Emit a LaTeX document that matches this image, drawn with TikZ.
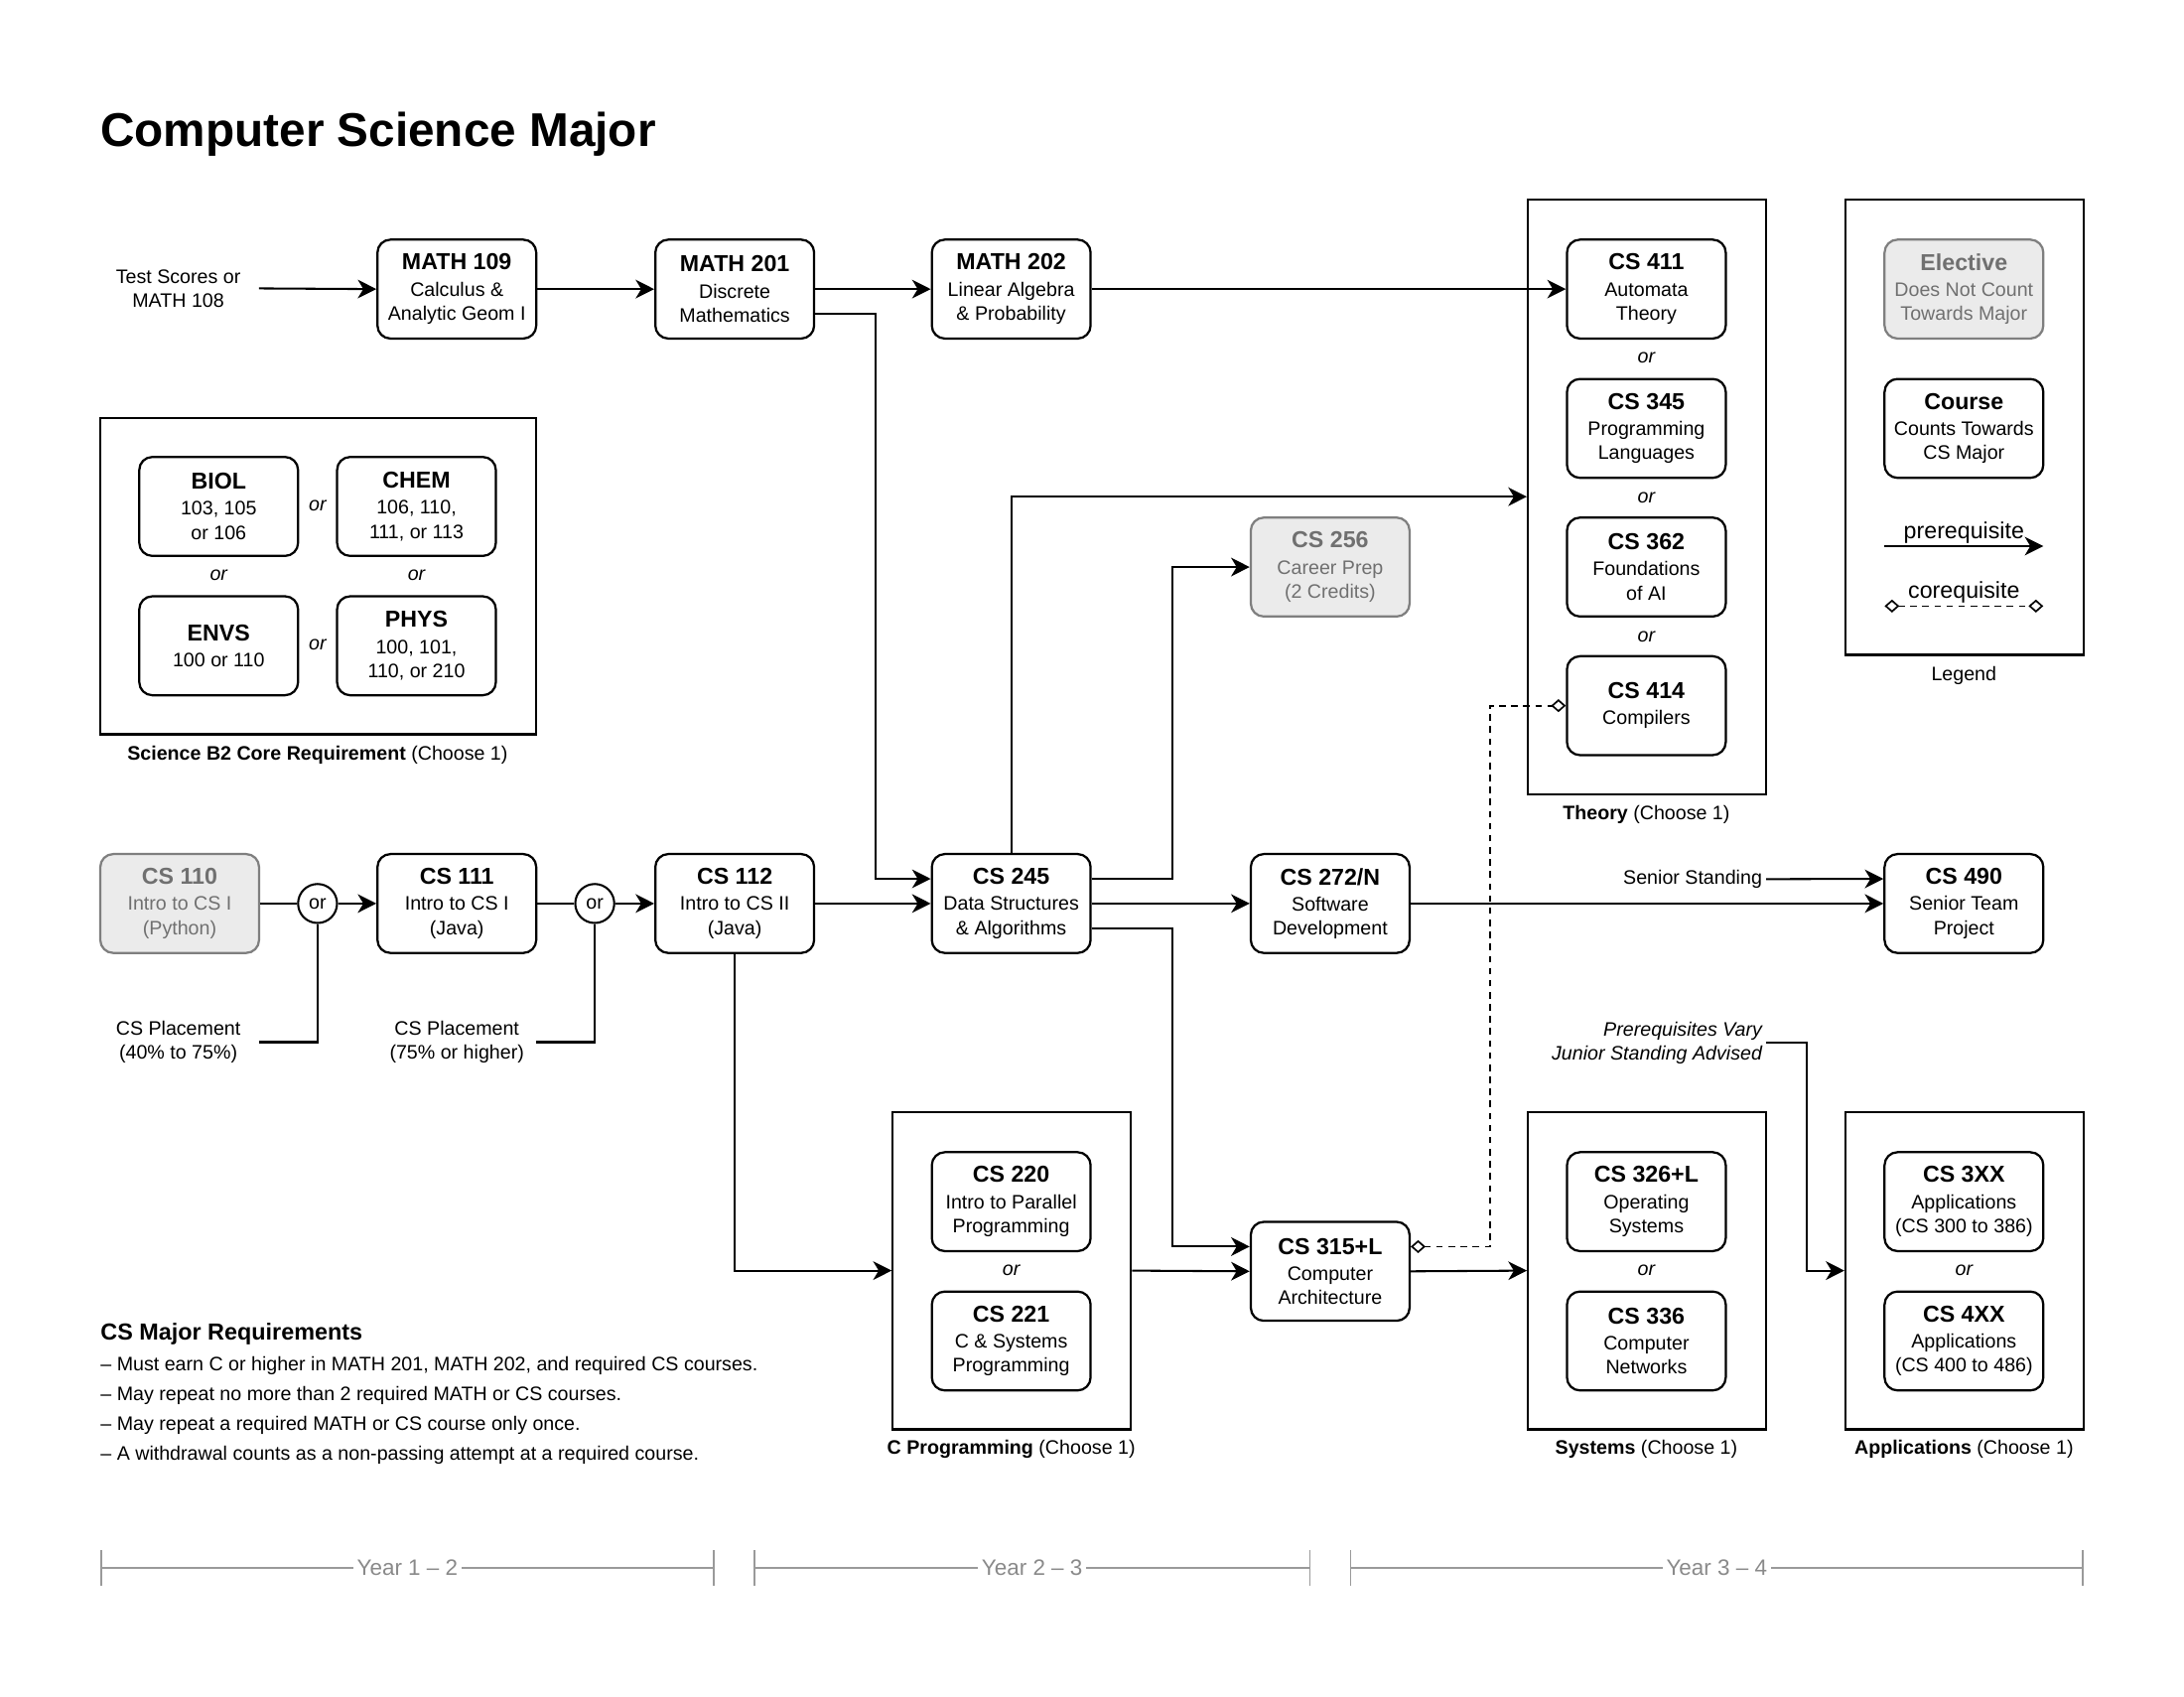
\documentclass[tikz,border=0pt]{standalone}
\usepackage{fontspec}
\setmainfont{Liberation Sans}
\usetikzlibrary{arrows.meta, fit, positioning}
\definecolor{elecfill}{HTML}{EBEBEB}
\definecolor{elecline}{HTML}{7F7F7F}
\definecolor{electext}{HTML}{707070}
\definecolor{yeargray}{HTML}{9A9A9A}
\definecolor{yeartext}{HTML}{8A8A8A}
\newcommand{\ctitle}{\bfseries\fontsize{12.4}{14}\selectfont}

\begin{document}
\begin{tikzpicture}[x=0.75pt, y=-0.75pt,
  every node/.style={font=\fontsize{10.5}{13}\selectfont},
  course/.style={draw, line width=1.2pt, rounded corners=7pt, minimum width=85.5pt, minimum height=53.25pt, align=center, inner sep=1pt},
  elective/.style={course, draw=elecline, fill=elecfill, text=electext},
  choicebox/.style={draw, line width=1.2pt, inner sep=0pt},
  orc/.style={draw, circle, line width=1.1pt, minimum size=21pt, inner sep=0pt},
  ortext/.style={font=\itshape\fontsize{10.5}{13}\selectfont},
  link/.style={line width=1.1pt},
  prereq/.style={line width=1.1pt, -{Stealth[length=10pt, width=10pt, inset=3pt]}},
  coreq/.style={line width=0.9pt, dash pattern=on 3.5pt off 3pt, {Diamond[open, length=8pt, width=7pt]}-{Diamond[open, length=8pt, width=7pt]}},
  yearbar/.style={draw=yeargray, line width=0.9pt, {Bar[width=19pt]}-{Bar[width=19pt]}},
  yearlabel/.style={fill=white, text=yeartext, inner sep=2pt, font=\fontsize{12}{14}\selectfont},
  reqline/.style={anchor=base west, inner sep=0pt}
]
\useasboundingbox (0,0) rectangle (1568,1218);
\node[anchor=base west, inner sep=0pt, font=\bfseries\fontsize{25.5}{30}\selectfont] (title) at (72,105) {Computer Science Major};

% Math row
\node[align=center] (tests) at (128,207) {Test Scores or\\MATH 108};
\coordinate (testsend) at (186,207);
\node[course] (m109) at (328,207.5) {{\ctitle MATH 109}\\[1pt]Calculus \&\\Analytic Geom I};
\node[course] (m201) at (527.5,207.5) {{\ctitle MATH 201}\\[1pt]Discrete\\Mathematics};
\node[course] (m202) at (726,207.5) {{\ctitle MATH 202}\\[1pt]Linear Algebra\\\& Probability};

% Science B2 core
\node[choicebox, fit={(72,300) (385,527)}] (science) {};
\node[course] (biol) at (157,363.5) {{\ctitle BIOL}\\[1pt]103, 105\\or 106};
\node[course] (chem) at (299,363.5) {{\ctitle CHEM}\\[1pt]106, 110,\\111, or 113};
\node[course] (envs) at (157,463.5) {{\ctitle ENVS}\\[1pt]100 or 110};
\node[course] (phys) at (299,463.5) {{\ctitle PHYS}\\[1pt]100, 101,\\110, or 210};
\node[ortext] (sor1) at (228,363) {or};
\node[ortext] (sor2) at (157,413) {or};
\node[ortext] (sor3) at (299,413) {or};
\node[ortext] (sor4) at (228,463) {or};
\node (sciencename) at (228,542) {\textbf{Science B2 Core Requirement} (Choose 1)};

% Theory
\node[choicebox, fit={(1097,143) (1268,570)}] (theory) {};
\node[course] (cs411) at (1182,207.5) {{\ctitle CS 411}\\[1pt]Automata\\Theory};
\node[ortext] (tor1) at (1182,257) {or};
\node[course] (cs345) at (1182,307.5) {{\ctitle CS 345}\\[1pt]Programming\\Languages};
\node[ortext] (tor2) at (1182,357) {or};
\node[course] (cs362) at (1182,407) {{\ctitle CS 362}\\[1pt]Foundations\\of AI};
\node[ortext] (tor3) at (1182,457) {or};
\node[course] (cs414) at (1182,506.5) {{\ctitle CS 414}\\[1pt]Compilers};
\node (theoryname) at (1182,585) {\textbf{Theory} (Choose 1)};

% Legend
\node[choicebox, fit={(1325,143) (1496,470)}] (legend) {};
\node[elective] (lgelective) at (1410,207.5) {{\ctitle Elective}\\[1pt]Does Not Count\\Towards Major};
\node[course] (lgcourse) at (1410,307.5) {{\ctitle Course}\\[1pt]Counts Towards\\CS Major};
\coordinate (lgpa) at (1353,392);
\coordinate (lgpb) at (1467,392);
\coordinate (lgca) at (1353,435);
\coordinate (lgcb) at (1467,435);
\draw[prereq] (lgpa) -- node[above, inner sep=1pt, font=\fontsize{12.4}{14}\selectfont] {prerequisite} (lgpb);
\draw[coreq] (lgca) -- node[above, inner sep=1pt, font=\fontsize{12.4}{14}\selectfont] {corequisite} (lgcb);
\node (legendname) at (1410,485) {Legend};

% CS row
\node[elective] (cs110) at (129,648.5) {{\ctitle CS 110}\\[1pt]Intro to CS I\\(Python)};
\node[orc] (or1) at (228,648.5) {or};
\node[course] (cs111) at (328,648.5) {{\ctitle CS 111}\\[1pt]Intro to CS I\\(Java)};
\node[orc] (or2) at (427,648.5) {or};
\node[course] (cs112) at (527.5,648.5) {{\ctitle CS 112}\\[1pt]Intro to CS II\\(Java)};
\node[course] (cs245) at (726,648.5) {{\ctitle CS 245}\\[1pt]Data Structures\\\& Algorithms};
\node[elective] (cs256) at (955,407) {{\ctitle CS 256}\\[1pt]Career Prep\\(2 Credits)};
\node[course] (cs272) at (955,648.5) {{\ctitle CS 272/N}\\[1pt]Software\\Development};
\node[course] (cs490) at (1410,648.5) {{\ctitle CS 490}\\[1pt]Senior Team\\Project};
\node[anchor=east, inner sep=2pt] (senior) at (1268,631) {Senior Standing};
\node[align=center] (place1) at (128,748) {CS Placement\\(40\% to 75\%)};
\node[align=center] (place2) at (328,748) {CS Placement\\(75\% or higher)};
\coordinate (place1end) at (186,748);
\coordinate (place2end) at (385,748);

% C programming, systems, applications
\node[choicebox, fit={(641,798) (812,1026)}] (cprog) {};
\node[course] (cs220) at (726,862.5) {{\ctitle CS 220}\\[1pt]Intro to Parallel\\Programming};
\node[ortext] (cor1) at (726,912) {or};
\node[course] (cs221) at (726,962.5) {{\ctitle CS 221}\\[1pt]C \& Systems\\Programming};
\node (cprogname) at (726,1040) {\textbf{C Programming} (Choose 1)};
\node[course] (cs315) at (955,912.5) {{\ctitle CS 315+L}\\[1pt]Computer\\Architecture};
\node[choicebox, fit={(1097,798) (1268,1026)}] (systems) {};
\node[course] (cs326) at (1182,862.5) {{\ctitle CS 326+L}\\[1pt]Operating\\Systems};
\node[ortext] (sysor) at (1182,912) {or};
\node[course] (cs336) at (1182,962.5) {{\ctitle CS 336}\\[1pt]Computer\\Networks};
\node (systemsname) at (1182,1040) {\textbf{Systems} (Choose 1)};
\node[choicebox, fit={(1325,798) (1496,1026)}] (apps) {};
\node[course] (cs3xx) at (1410,862.5) {{\ctitle CS 3XX}\\[1pt]Applications\\(CS 300 to 386)};
\node[ortext] (appsor) at (1410,912) {or};
\node[course] (cs4xx) at (1410,962.5) {{\ctitle CS 4XX}\\[1pt]Applications\\(CS 400 to 486)};
\node (appsname) at (1410,1040) {\textbf{Applications} (Choose 1)};
\node[anchor=east, align=right, inner sep=2pt, ortext] (prqvary) at (1268,748.5) {Prerequisites Vary\\Junior Standing Advised};

% Arrows
\draw[prereq] (testsend) -- (m109.west);
\draw[prereq] (m109) -- (m201);
\draw[prereq] (m201) -- (m202);
\draw[prereq] (m202.east) -- (cs411.west);
\draw[prereq] ([yshift=-13.3pt]m201.east) -- ++(43,0) |- ([yshift=13.3pt]cs245.west);
\draw[link] (cs110) -- (or1);
\draw[prereq] (or1) -- (cs111);
\draw[link] (cs111) -- (or2);
\draw[prereq] (or2) -- (cs112);
\draw[link] (place1end) -| (or1.south);
\draw[link] (place2end) -| (or2.south);
\draw[prereq] (cs112) -- (cs245);
\draw[prereq] (cs245.north) |- (theory.west);
\draw[prereq] ([yshift=13.3pt]cs245.east) -- ++(58,0) |- (cs256.west);
\draw[prereq] (cs245) -- (cs272);
\draw[prereq] ([yshift=-13.3pt]cs245.east) -- ++(58,0) |- ([yshift=13.3pt]cs315.west);
\draw[prereq] (cs112.south) |- (cprog.west);
\draw[prereq] (cprog.east) -- (cs315.west);
\draw[prereq] (cs315.east) -- (systems.west);
\draw[prereq] (cs272) -- (cs490);
\draw[prereq] (senior.east) -- ([yshift=13.3pt]cs490.west);
\draw[prereq] (prqvary.east) -- ++(29,0) |- (apps.west);
% Corequisite
\draw[coreq] ([yshift=13.3pt]cs315.east) -- ++(57,0) |- (cs414.west);

% Requirements
\node[reqline, font=\bfseries\fontsize{12.5}{14}\selectfont] (reqhead) at (72,962) {CS Major Requirements};
\node[reqline] (req1) at (72,983.6) {– Must earn C or higher in MATH 201, MATH 202, and required CS courses.};
\node[reqline] (req2) at (72,1005) {– May repeat no more than 2 required MATH or CS courses.};
\node[reqline] (req3) at (72,1026.4) {– May repeat a required MATH or CS course only once.};
\node[reqline] (req4) at (72,1047.8) {– A withdrawal counts as a non-passing attempt at a required course.};

% Years
\coordinate (y1a) at (72,1125.5);
\coordinate (y1b) at (513,1125.5);
\coordinate (y2a) at (541,1125.5);
\coordinate (y2b) at (941,1125.5);
\coordinate (y3a) at (969,1125.5);
\coordinate (y3b) at (1496,1125.5);
\draw[yearbar] (y1a) -- node[yearlabel] {Year 1 – 2} (y1b);
\draw[yearbar] (y2a) -- node[yearlabel] {Year 2 – 3} (y2b);
\draw[yearbar] (y3a) -- node[yearlabel] {Year 3 – 4} (y3b);
\end{tikzpicture}
\end{document}
